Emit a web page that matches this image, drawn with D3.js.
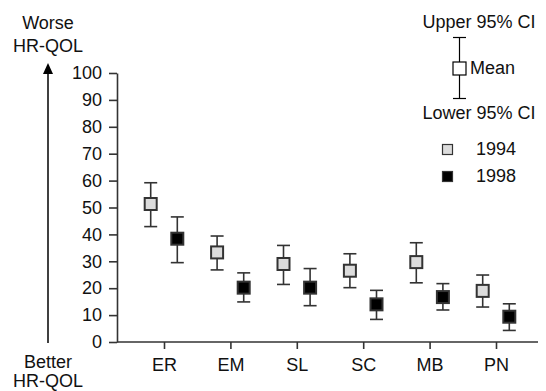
<!DOCTYPE html>
<html>
<head>
<meta charset="utf-8">
<script src="https://cdn.jsdelivr.net/npm/d3@7"></script>
<style>
  body { margin: 0; background: #fff; }
  svg text { font-family: "Liberation Sans", Arial, sans-serif; font-size: 18px; fill: #111; }
</style>
</head>
<body>
<div id="chart"></div>
<script>
// HR-QOL domains
const categories = ["ER", "EM", "SL", "SC", "MB", "PN"];
const years = ["1994", "1998"];
const yearFill = ["#dcdcdc", "#000000"];

// mean and 95% CI
const mean1994 = [51.3, 33.3, 29.0, 26.5, 29.7, 19.0];
const upper1994 = [59.2, 39.4, 35.9, 32.8, 36.9, 24.9];
const lower1994 = [42.9, 26.8, 21.4, 20.2, 22.0, 13.0];
const mean1998 = [38.4, 20.2, 20.2, 14.0, 16.7, 9.4];
const upper1998 = [46.5, 25.7, 27.3, 19.2, 21.7, 14.2];
const lower1998 = [29.5, 14.9, 13.5, 8.4, 11.9, 4.3];

const yTicks = d3.range(0, 101, 10);

const width = 546, height = 391;

const svg = d3.select("#chart").append("svg")
    .attr("width", width)
    .attr("height", height);

let x = d3.scalePoint().domain(categories).range([164, 496]);
let y = d3.scaleLinear().domain([0, 100]).range([342, 73]);
let offset = d3.scalePoint().domain(years).range([-13.3, 13.3]);

// y axis
let yAxis = svg.append("g")
    .attr("transform", "translate(117,0)")
    .call(d3.axisLeft(y).tickValues(yTicks).tickSize(8).tickSizeOuter(0).tickPadding(7));
yAxis.selectAll("text").attr("font-size", null).attr("font-family", null);
yAxis.selectAll("line, path").attr("stroke", "#333").attr("stroke-width", 1.6);

// x axis
let xAxis = svg.append("g")
    .attr("transform", "translate(0,342)")
    .call(d3.axisBottom(x).tickSize(7).tickPadding(9));
xAxis.select(".domain").remove();
xAxis.selectAll("text").attr("font-size", null).attr("font-family", null);
xAxis.selectAll("line").attr("stroke", "#333").attr("stroke-width", 1.6);
svg.append("line")
    .attr("x1", 117).attr("x2", 538)
    .attr("y1", 342).attr("y2", 342)
    .attr("stroke", "#333").attr("stroke-width", 1.6);

// series
const series = [
    { year: "1994", mean: mean1994, upper: upper1994, lower: lower1994 },
    { year: "1998", mean: mean1998, upper: upper1998, lower: lower1998 }
];

const box = 14, cap = 13;

series.forEach((s, si) => {
    let pts = categories.map((c, i) => ({
        cx: x(c) + offset(s.year),
        m: s.mean[i], u: s.upper[i], l: s.lower[i]
    }));
    let g = svg.append("g");
    g.selectAll("line.bar")
        .data(pts).join("line")
        .attr("x1", d => d.cx).attr("x2", d => d.cx)
        .attr("y1", d => y(d.u)).attr("y2", d => y(d.l))
        .attr("stroke", "#333").attr("stroke-width", 1.6);
    g.selectAll("line.capU")
        .data(pts).join("line")
        .attr("x1", d => d.cx - cap / 2).attr("x2", d => d.cx + cap / 2)
        .attr("y1", d => y(d.u)).attr("y2", d => y(d.u))
        .attr("stroke", "#333").attr("stroke-width", 1.6);
    g.selectAll("line.capL")
        .data(pts).join("line")
        .attr("x1", d => d.cx - cap / 2).attr("x2", d => d.cx + cap / 2)
        .attr("y1", d => y(d.l)).attr("y2", d => y(d.l))
        .attr("stroke", "#333").attr("stroke-width", 1.6);
    g.selectAll("rect")
        .data(pts).join("rect")
        .attr("x", d => d.cx - box / 2 + 1)
        .attr("y", d => y(d.m) - box / 2 + 1)
        .attr("width", box - 2).attr("height", box - 2)
        .attr("fill", yearFill[si])
        .attr("stroke", "#333").attr("stroke-width", 2);
});

// worse / better arrow
svg.append("line")
    .attr("x1", 48).attr("x2", 48)
    .attr("y1", 343).attr("y2", 72)
    .attr("stroke", "#000").attr("stroke-width", 1.5);
svg.append("path")
    .attr("d", "M48,63 L43,74 L53,74 Z")
    .attr("fill", "#000");

const sideLabels = [
    { t: "Worse", y: 29 }, { t: "HR-QOL", y: 52 },
    { t: "Better", y: 368 }, { t: "HR-QOL", y: 387 }
];
svg.selectAll("text.side")
    .data(sideLabels).join("text")
    .attr("class", "side")
    .attr("x", 48).attr("y", d => d.y)
    .attr("text-anchor", "middle")
    .text(d => d.t);

// CI legend
let lg = svg.append("g");
lg.append("text").attr("x", 479).attr("y", 28).attr("text-anchor", "middle").text("Upper 95% CI");
lg.append("text").attr("x", 479).attr("y", 119).attr("text-anchor", "middle").text("Lower 95% CI");
lg.append("line").attr("x1", 459.5).attr("x2", 459.5).attr("y1", 37.5).attr("y2", 98.5)
    .attr("stroke", "#000").attr("stroke-width", 1.2);
lg.append("line").attr("x1", 453).attr("x2", 466).attr("y1", 37.5).attr("y2", 37.5)
    .attr("stroke", "#000").attr("stroke-width", 1.2);
lg.append("line").attr("x1", 453).attr("x2", 466).attr("y1", 98.5).attr("y2", 98.5)
    .attr("stroke", "#000").attr("stroke-width", 1.2);
lg.append("rect").attr("x", 453).attr("y", 62).attr("width", 13).attr("height", 13)
    .attr("fill", "#fff").attr("stroke", "#000").attr("stroke-width", 1.2);
lg.append("text").attr("x", 470).attr("y", 74).text("Mean");

// year legend
let yl = svg.selectAll("g.year")
    .data(years).join("g")
    .attr("class", "year")
    .attr("transform", (d, i) => `translate(442,${144 + i * 27})`);
yl.append("rect")
    .attr("x", 0.5).attr("y", 0.5).attr("width", 10).attr("height", 10)
    .attr("fill", (d, i) => yearFill[i])
    .attr("stroke", "#333").attr("stroke-width", 1.2);
yl.append("text")
    .attr("x", 34).attr("y", 11)
    .text(d => d);
</script>
</body>
</html>
